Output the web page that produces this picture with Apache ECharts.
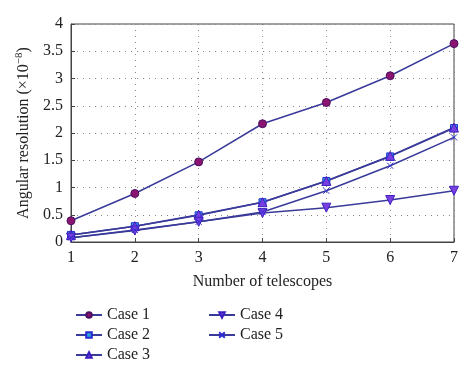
<!DOCTYPE html>
<html><head><meta charset="utf-8">
<script src="https://cdn.jsdelivr.net/npm/echarts@6/dist/echarts.min.js"></script>
<style>html,body{margin:0;padding:0;background:#fff}#c{width:474px;height:379px}</style>
</head><body><div id="c"></div>
<script>
const telescopes = [1, 2, 3, 4, 5, 6, 7];
const case1 = [0.39, 0.89, 1.47, 2.17, 2.56, 3.05, 3.64];
const case2 = [0.13, 0.29, 0.49, 0.73, 1.12, 1.57, 2.09];
const case3 = [0.13, 0.29, 0.50, 0.73, 1.12, 1.58, 2.10];
const case4 = [0.08, 0.21, 0.37, 0.53, 0.63, 0.77, 0.94];
const case5 = [0.08, 0.22, 0.37, 0.55, 0.94, 1.40, 1.92];
const yTicks = ['0', '0.5', '1', '1.5', '2', '2.5', '3', '3.5', '4'];

const font = 'Liberation Serif';
const lineColor = '#3a3a9a';
function mk(name, data, symbol, fill, border, size) {
  return {
    name, type: 'line', data: telescopes.map((x, i) => [x, data[i]]),
    symbol, symbolSize: size,
    lineStyle: { color: lineColor, width: 1.5 },
    itemStyle: { color: fill, borderColor: border, borderWidth: 1 },
    emphasis: { disabled: true }
  };
}
const legendText = { fontFamily: font, fontSize: 16, color: '#222' };
const chart = echarts.init(document.getElementById('c'));
chart.setOption({
  animation: false,
  backgroundColor: '#fff',
  grid: { left: 71, right: 20, top: 24, bottom: 137, show: true, borderColor: '#444', borderWidth: 1 },
  xAxis: {
    type: 'value', min: 1, max: 7, interval: 1,
    name: 'Number of telescopes', nameLocation: 'middle', nameGap: 32,
    nameTextStyle: { fontFamily: font, fontSize: 16, color: '#222' },
    axisLine: { lineStyle: { color: '#444' } },
    axisTick: { inside: true, length: 4, lineStyle: { color: '#444' } },
    axisLabel: { fontFamily: font, fontSize: 16, color: '#222', margin: 8 },
    splitLine: { show: true, lineStyle: { type: [1, 5], color: '#888' } }
  },
  yAxis: {
    type: 'value', min: 0, max: 4, interval: 0.5,
    name: '{n|Angular resolution (×10}{s|−8}{n|)}', nameLocation: 'middle', nameGap: 38,
    nameTextStyle: { rich: {
      n: { fontFamily: font, fontSize: 16, color: '#222' },
      s: { fontFamily: font, fontSize: 11, color: '#222', verticalAlign: 'top', padding: [0, 0, 8, 0] }
    } },
    axisLine: { lineStyle: { color: '#444' } },
    axisTick: { inside: true, length: 4, lineStyle: { color: '#444' } },
    axisLabel: { fontFamily: font, fontSize: 16, color: '#222', margin: 8,
      formatter: (v) => yTicks[Math.round(v * 2)] },
    splitLine: { show: true, lineStyle: { type: [1, 5], color: '#888' } }
  },
  legend: [
    { orient: 'vertical', left: 70, top: 302, itemWidth: 26, itemHeight: 7, itemGap: 4,
      textStyle: legendText, data: ['Case 1', 'Case 2', 'Case 3'] },
    { orient: 'vertical', left: 203, top: 302, itemWidth: 26, itemHeight: 7, itemGap: 4,
      textStyle: legendText, data: ['Case 4', 'Case 5'] }
  ],
  series: [
    mk('Case 1', case1, 'circle', '#8a1470', '#4a1060', 8),
    mk('Case 2', case2, 'rect', '#29a6e0', '#2a2ad0', 7),
    mk('Case 3', case3, 'triangle', '#7a3fe0', '#3a1fc0', 9),
    mk('Case 4', case4, 'path://M0,0 L10,0 L5,9 Z', '#7a3fe0', '#3a1fc0', 9),
    mk('Case 5', case5, 'path://M0,0 L10,10 M10,0 L0,10', '#2a2ad0', '#2a2ad0', 6)
  ]
});
</script></body></html>
